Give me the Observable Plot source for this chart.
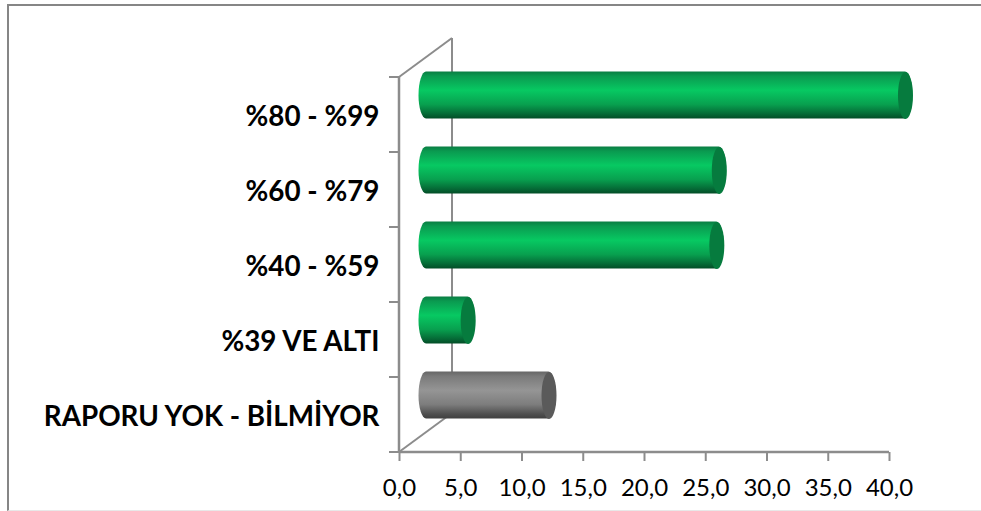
<!DOCTYPE html>
<html><head><meta charset="utf-8">
<script src="https://cdn.jsdelivr.net/npm/d3@7"></script>
<script src="https://cdn.jsdelivr.net/npm/@observablehq/plot@0.6"></script>
<style>
html,body{margin:0;padding:0;background:#fff;}
#wrap{position:relative;width:981px;height:511px;overflow:hidden;}
#wrap svg{display:block;}
#border{position:absolute;left:7px;top:4px;width:980px;height:507px;border-left:2px solid #868686;border-top:2px solid #868686;border-bottom:1px solid #e8e8e8;box-sizing:border-box;pointer-events:none;}
</style></head><body>
<div id="wrap"><div id="chart"></div><div id="border"></div></div>
<script>
const categories = ["%80 - %99","%60 - %79","%40 - %59","%39 VE ALTI","RAPORU YOK - BİLMİYOR"];
const values = [39.1,23.9,23.7,3.4,10];
const groups = ["green","green","green","green","gray"];
const xTicks = [0,5,10,15,20,25,30,35,40];
const data = categories.map((c,i)=>({c,v:values[i],g:groups[i]}));
const green = data.filter(d=>d.g==="green");
const gray = data.filter(d=>d.g==="gray");

const axisColor = "#8c8c8c", depthX = 53, depthY = -39, capRx = 7.5, capRy = 23.5;
const off = {dx: 27, dy: depthY/2};

function gradient(id, stops){
  const g = d3.create("svg:linearGradient").attr("id",id).attr("x1",0).attr("x2",0).attr("y1",0).attr("y2",1);
  for(const [o,c] of stops) g.append("stop").attr("offset",o).attr("stop-color",c);
  return g.node();
}
const defs = () => {
  const d = d3.create("svg:defs");
  d.node().append(gradient("gGreen",[[0,"#0a7d43"],[.1,"#0a9a50"],[.4,"#07c962"],[.7,"#08a04f"],[.9,"#056a36"],[1,"#034d27"]]));
  d.node().append(gradient("gGray",[[0,"#666666"],[.1,"#7a7a7a"],[.4,"#959595"],[.7,"#7d7d7d"],[.9,"#505050"],[1,"#404040"]]));
  return d.node();
};
const capSymbol = {draw(ctx){
  const k=.5523, a=capRx, b=capRy;
  ctx.moveTo(a,0);
  ctx.bezierCurveTo(a,k*b,k*a,b,0,b);
  ctx.bezierCurveTo(-k*a,b,-a,k*b,-a,0);
  ctx.bezierCurveTo(-a,-k*b,-k*a,-b,0,-b);
  ctx.bezierCurveTo(k*a,-b,a,-k*b,a,0);
  ctx.closePath();
}};
// wall lines and band-edge ticks, derived from the plot's own dimensions
const wall = (index, scales, values, dims) => {
  const g = d3.create("svg:g").attr("stroke",axisColor).attr("fill","none");
  const x0 = dims.marginLeft, t = dims.marginTop, b = dims.height-dims.marginBottom;
  const n = categories.length;
  const seg=(a,c,d,e,w)=>g.append("line").attr("x1",a).attr("y1",c).attr("x2",d).attr("y2",e).attr("stroke-width",w);
  seg(x0+depthX,t+depthY,x0+depthX,b+depthY,2);
  seg(x0,t,x0+depthX,t+depthY,2);
  seg(x0,b,x0+depthX,b+depthY,2);
  seg(x0,t,x0,b,2.5);
  for(let i=0;i<=n;i++){const y=t+(b-t)*i/n; seg(x0-10,y,x0,y,2);}
  seg(x0,b,dims.width-dims.marginRight,b,2.5);
  return g.node();
};
const chart = Plot.plot({
  width:981,height:511,
  marginLeft:399,marginRight:92,marginTop:77,marginBottom:59,
  style:{background:"transparent"},
  x:{domain:[0,40],label:null},
  y:{domain:categories,type:"band",paddingInner:.373,paddingOuter:.1865,label:null},
  marks:[
    defs, wall,
    Plot.axisX({ticks:xTicks,tickSize:9,tickPadding:17,stroke:axisColor,strokeWidth:2,strokeOpacity:1,tickFormat:d=>d3.format(".1f")(d).replace(".",","),fontFamily:"Lato",fontSize:24,fill:"#000",label:null}),
    Plot.axisY({tickSize:0,tickPadding:20,fontFamily:"Lato",fontWeight:700,fontSize:27.8,fill:"#000",label:null,dy:2}),
    Plot.barX(green,{x:"v",y:"c",fill:"url(#gGreen)",rx:capRx,ry:capRy,insetLeft:-capRx,insetRight:-capRx,...off}),
    Plot.barX(gray,{x:"v",y:"c",fill:"url(#gGray)",rx:capRx,ry:capRy,insetLeft:-capRx,insetRight:-capRx,...off}),
    Plot.dot(green,{x:"v",y:"c",symbol:capSymbol,r:5,fill:"#067b3e",stroke:"none",...off}),
    Plot.dot(gray,{x:"v",y:"c",symbol:capSymbol,r:5,fill:"#5a5a5a",stroke:"none",...off})
  ]
});
document.getElementById("chart").append(chart);
</script></body></html>
